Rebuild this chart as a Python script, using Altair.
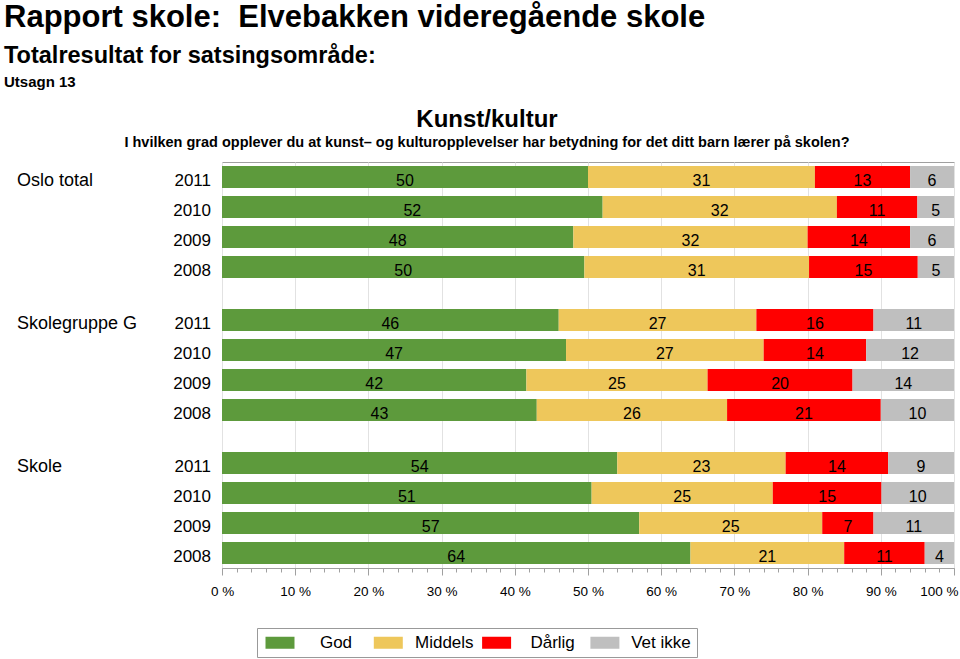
import json
import altair as alt
import pandas as pd

# ---------------- data ----------------
groups = ["Oslo total", "Skolegruppe G", "Skole"]
years = ["2011", "2010", "2009", "2008"]
categories = ["God", "Middels", "Dårlig", "Vet ikke"]
colors = ["#5D9A3C", "#EEC75B", "#FF0000", "#BFBFBF"]

# rows: Oslo total 2011..2008, Skolegruppe G 2011..2008, Skole 2011..2008
god = [50, 52, 48, 50, 46, 47, 42, 43, 54, 51, 57, 64]
middels = [31, 32, 32, 31, 27, 27, 25, 26, 23, 25, 25, 21]
darlig = [13, 11, 14, 15, 16, 14, 20, 21, 14, 15, 7, 11]
vet_ikke = [6, 5, 6, 5, 11, 12, 14, 10, 9, 10, 11, 4]

x_ticks = [i / 50 for i in range(51)]

report_title = "Rapport skole:\u00a0 Elvebakken videregående skole"
subtitle1 = "Totalresultat for satsingsområde:"
subtitle2 = "Utsagn 13"
chart_title = "Kunst/kultur"
question = "I hvilken grad opplever du at kunst– og kulturopplevelser har betydning for det ditt barn lærer på skolen?"

series = [god, middels, darlig, vet_ikke]
rows = []
for gi, g in enumerate(groups):
    for yi, yr in enumerate(years):
        idx = gi * len(years) + yi
        for cat, arr in zip(categories, series):
            rows.append({"group": g, "year": yr, "cat": cat, "value": arr[idx]})
df = pd.DataFrame(rows)

FONT = "Liberation Sans"

base = (
    alt.Chart(df)
    .transform_calculate(order=f"indexof({json.dumps(categories, ensure_ascii=False)}, datum.cat)")
    .transform_stack(
        stack="value",
        groupby=["group", "year"],
        sort=[alt.SortField("order", order="ascending")],
        as_=["x0", "x1"],
        offset="normalize",
    )
    .transform_calculate(mid="(datum.x0 + datum.x1) / 2")
)

y_enc = alt.Y("group:N", sort=groups, axis=None,
              scale=alt.Scale(paddingInner=0.16, paddingOuter=0))
yoff_enc = alt.YOffset("year:N", sort=years,
                       scale=alt.Scale(paddingInner=0.267, paddingOuter=0.1335))

major = "round(datum.value*100) % 10 == 0"

x_axis = alt.Axis(
    values=x_ticks,
    title=None,
    labelExpr=f"{major} ? round(datum.value*100) + ' %' : ''",
    labelOverlap=False,
    labelFlush=False,
    labelAlign={"condition": {"test": "datum.value >= 1", "value": "right"}, "value": "center"},
    labelOffset={"condition": {"test": "datum.value >= 1", "value": 4}, "value": 0},
    tickSize={"condition": {"test": major, "value": 7}, "value": 4},
    gridOpacity={"condition": {"test": major, "value": 1}, "value": 0},
    grid=True,
    gridColor="#E2E2E2",
    labelFontSize=13.5,
    labelPadding=9,
    labelColor="black",
    domainColor="#A0A0A0",
    tickColor="#A0A0A0",
)
x_scale = alt.Scale(domain=[0, 1], nice=False)

bars = base.mark_bar().encode(
    x=alt.X("x0:Q", scale=x_scale, axis=x_axis, title=None),
    x2="x1:Q",
    y=y_enc,
    yOffset=yoff_enc,
    color=alt.Color(
        "cat:N",
        scale=alt.Scale(domain=categories, range=colors),
        legend=alt.Legend(
            title=None,
            orient="none",
            legendX=35,
            legendY=466,
            direction="horizontal",
            columns=4,
            symbolType="M-1,-1H3.833V1H-1Z",
            symbolSize=144,
            symbolStrokeWidth=0,
            symbolOpacity=1,
            labelFontSize=17,
            labelAlign="center",
            labelOffset=56,
            labelColor="black",
            labelLimit=200,
            columnPadding=5.3,
            padding=6,
            strokeColor="#999999",
            gridAlign="all",
        ),
    ),
)

labels = base.mark_text(fontSize=16, color="black", dy=4).encode(
    x=alt.X("mid:Q", scale=x_scale, axis=x_axis, title=None),
    y=y_enc,
    yOffset=yoff_enc,
    text="value:Q",
)

year_labels = base.transform_filter("datum.cat == 'God'").mark_text(
    align="right", fontSize=17, color="black", dy=4
).encode(
    x=alt.value(-11),
    y=y_enc,
    yOffset=yoff_enc,
    text="year:N",
)

group_labels = base.transform_filter("datum.cat == 'God' && datum.year == '2011'").mark_text(
    align="left", fontSize=18, color="black", dy=4
).encode(
    x=alt.value(-205),
    y=y_enc,
    yOffset=yoff_enc,
    text="group:N",
)


def header(text, size, x, y, align):
    return alt.Chart(pd.DataFrame({"t": [text]})).mark_text(
        align=align, baseline="alphabetic", fontSize=size, fontWeight="bold", color="black"
    ).encode(x=alt.value(x), y=alt.value(y), text="t:N")


h1 = header(report_title, 31, -218, -135, "left")
h2 = header(subtitle1, 23.5, -218, -99, "left")
h3 = header(subtitle2, 15, -218, -75, "left")
h4 = header(chart_title, 24, 265, -35, "center")
h5 = header(question, 14.5, 265, -15, "center")

chart = (
    alt.layer(bars, labels, year_labels, group_labels, h1, h2, h3, h4, h5)
    .properties(
        width=732,
        height=406,
        autosize=alt.AutoSizeParams(type="none"),
        padding={"left": 222, "top": 162, "right": 6, "bottom": 91},
    )
    .configure(font=FONT)
    .configure_view(stroke="#A0A0A0", strokeWidth=1)
)

chart.save("out.html", embed_options={"renderer": "svg", "actions": False})
